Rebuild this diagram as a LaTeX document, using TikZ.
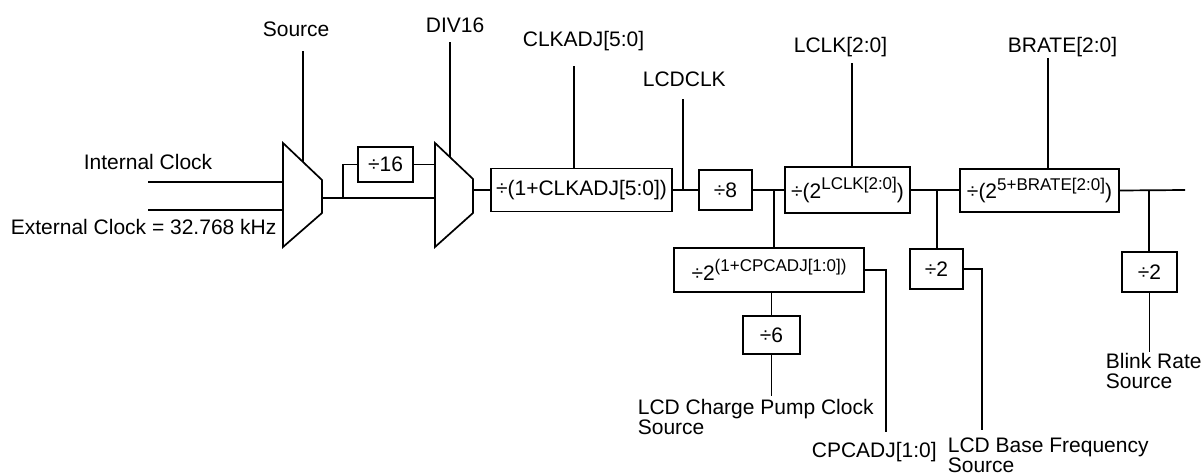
\documentclass[tikz,border=0pt]{standalone}
\usepackage{fontspec}
\setmainfont{Liberation Sans}
\newcommand\mysup[1]{\raisebox{0.42em}{\fontsize{17pt}{17pt}\selectfont #1}}
\begin{document}
\begin{tikzpicture}[x=1pt,y=-1pt,line width=1.7pt,
  box/.style={draw,inner sep=0pt,font=\fontsize{21pt}{24pt}\selectfont},
  lbl/.style={inner sep=0pt,font=\fontsize{21pt}{24pt}\selectfont},
  mlbl/.style={inner sep=0pt,align=left,anchor=north west,font=\fontsize{21pt}{19pt}\selectfont}]
\useasboundingbox (0,0) rectangle (1203,474);

% boxes
\node[box,minimum width=55pt,minimum height=35pt] (d16) at (385.5,164.5) {÷16};
\node[box,minimum width=181pt,minimum height=43pt] (clk) at (581.5,190) {÷(1+CLKADJ[5:0])};
\node[box,minimum width=53pt,minimum height=40pt] (d8) at (725.5,190) {÷8};
\node[box,minimum width=125pt,minimum height=46pt] (lclk) at (847.5,190) {÷(2\mysup{LCLK[2:0]})};
\node[box,minimum width=159pt,minimum height=43pt] (brate) at (1039.5,190.5) {÷(2\mysup{5+BRATE[2:0]})};
\node[box,minimum width=190pt,minimum height=44pt] (cp) at (769,270) {÷2\mysup{(1+CPCADJ[1:0])}};
\node[box,minimum width=57pt,minimum height=38pt] (d6) at (771.5,335) {÷6};
\node[box,minimum width=53pt,minimum height=40pt] (d2a) at (936.5,269) {÷2};
\node[box,minimum width=55pt,minimum height=40pt] (d2b) at (1149.5,272) {÷2};

% multiplexers
\coordinate (m1a) at (283,143); \coordinate (m1b) at (322,180);
\coordinate (m1c) at (322,213); \coordinate (m1d) at (283,247);
\draw (m1a) -- (m1b) -- (m1c) -- (m1d) -- cycle;
\coordinate (m2a) at (435,143); \coordinate (m2b) at (473,179);
\coordinate (m2c) at (473,213); \coordinate (m2d) at (435,247);
\draw (m2a) -- (m2b) -- (m2c) -- (m2d) -- cycle;

% labels
\node[lbl,anchor=base west] (srcL) at (262,36) {Source};
\node[lbl,anchor=base west] (divL) at (425,32) {DIV16};
\node[lbl,anchor=base west] (clkL) at (522,46) {CLKADJ[5:0]};
\node[lbl,anchor=base west] (lcdL) at (642,86) {LCDCLK};
\node[lbl,anchor=base west] (lclkL) at (793,52) {LCLK[2:0]};
\node[lbl,anchor=base west] (brL) at (1007,52) {BRATE[2:0]};
\node[lbl,anchor=base west] (intL) at (83,169) {Internal Clock};
\node[lbl,anchor=base west] (extL) at (10,234) {External Clock = 32.768 kHz};
\node[lbl,anchor=base west] (cpaL) at (811,457) {CPCADJ[1:0]};
\node[mlbl] (cpcL) at (637,398) {LCD Charge Pump Clock\\Source};
\node[mlbl,font=\fontsize{21pt}{15pt}\selectfont] (lbfL) at (947,437) {LCD Base Frequency\\Source};
\node[mlbl,font=\fontsize{21pt}{20pt}\selectfont] (blkL) at (1105,352) {Blink Rate\\Source};

% coordinates
\coordinate (intS) at (148,182); \coordinate (m1in1) at (283,182);
\coordinate (extS) at (148,210); \coordinate (m1in2) at (283,210);
\coordinate (m1out) at (322,198); \coordinate (m2in2) at (435,198);
\coordinate (m2in1) at (435,164.5); \coordinate (m2out) at (473,190);
\coordinate (br1) at (343,198);
\coordinate (srcTop) at (303,51); \coordinate (m1sel) at (303,162);
\coordinate (divTop) at (450,42); \coordinate (m2sel) at (450,157);
\coordinate (clkTop) at (574,66);
\coordinate (lcdTop) at (683,99);
\coordinate (lclkTop) at (852,63);
\coordinate (brTop) at (1048,58);
\coordinate (br2) at (774,190);
\coordinate (br3) at (937,190);
\coordinate (br4) at (1149,190);
\coordinate (outEnd) at (1185,190);
\coordinate (lbfEnd) at (982,430);
\coordinate (cpEnd) at (886,432);
\coordinate (cpcEnd) at (772,396);
\coordinate (blkEnd) at (1149,352);

% wires
\draw (intS) -- (m1in1);
\draw (extS) -- (m1in2);
\draw (m1out) -- (m2in2);
\draw (br1) |- (d16.west);
\draw (d16.east) -- (m2in1);
\draw (srcTop) -- (m1sel);
\draw (divTop) -- (m2sel);
\draw (m2out) -- (clk.west);
\draw (clkTop) -- (clkTop |- clk.north);
\draw (clk.east) -- (d8.west);
\draw (lcdTop) -- (lcdTop |- clk.east);
\draw (d8.east) -- (lclk.west);
\draw (br2) -- (br2 |- cp.north);
\draw (lclkTop) -- (lclkTop |- lclk.north);
\draw (lclk.east) -- (lclk.east -| brate.west);
\draw (br3) -- (br3 |- d2a.north);
\draw (d2a.east) -| (lbfEnd);
\draw (brTop) -- (brTop |- brate.north);
\draw (brate.east) -- (outEnd);
\draw (br4) -- (br4 |- d2b.north);
\draw (d2b.south) -- (d2b.south |- blkEnd);
\draw (cp.east) -| (cpEnd);
\draw (d6.north) -- (d6.north |- cp.south);
\draw (d6.south) -- (d6.south |- cpcEnd);
\end{tikzpicture}
\end{document}
